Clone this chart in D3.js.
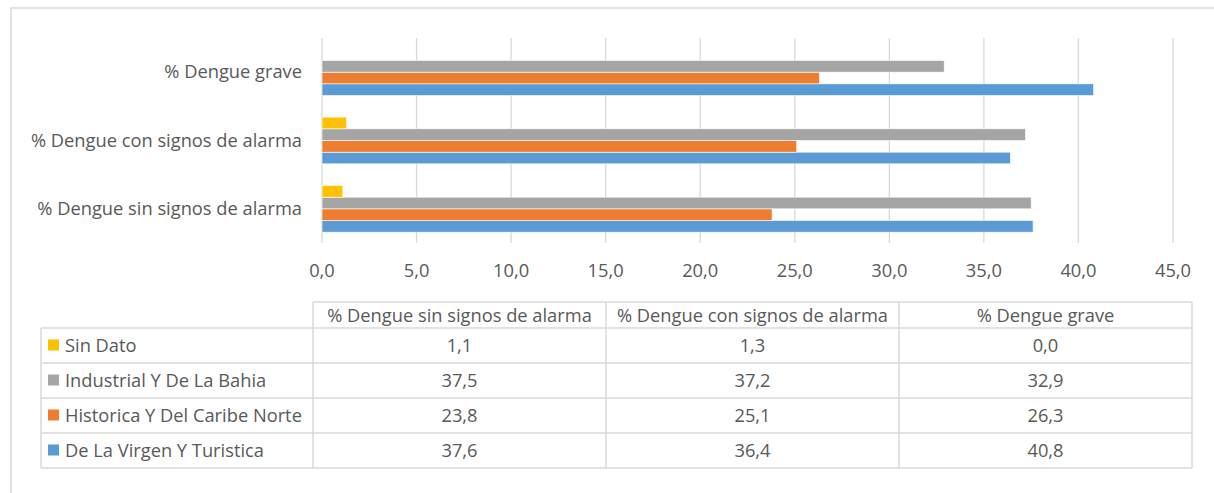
<!DOCTYPE html>
<html>
<head>
<meta charset="utf-8">
<script src="https://cdn.jsdelivr.net/npm/d3@7"></script>
<style>
  body { margin: 0; background: #fff; }
  text { font-family: "Open Sans", "Noto Sans", sans-serif; fill: #595959; }
</style>
</head>
<body>
<div id="chart"></div>
<script>
// clustered horizontal bars + data table underneath (Excel style)

const categories = ["% Dengue sin signos de alarma", "% Dengue con signos de alarma", "% Dengue grave"]
const seriesNames = ["De La Virgen Y Turistica", "Historica Y Del Caribe Norte", "Industrial Y De La Bahia", "Sin Dato"]
const seriesColors = ["#5B9BD5", "#ED7D31", "#A5A5A5", "#FFC000"]
const virgen     = [37.6, 36.4, 40.8]
const historica  = [23.8, 25.1, 26.3]
const industrial = [37.5, 37.2, 32.9]
const sinDato    = [1.1, 1.3, 0.0]
const xTicks = [0, 5, 10, 15, 20, 25, 30, 35, 40, 45]

const seriesValues = [virgen, historica, industrial, sinDato]

const W = 1214, H = 493
const fmt = d => d3.format(".1f")(d).replace(".", ",")
const fontSize = "18.3px"

const svg = d3.select("#chart").append("svg")
  .attr("width", W).attr("height", H)

// outer chart border (right and bottom run off the picture)
svg.append("rect")
  .attr("x", 11).attr("y", 8).attr("width", 1230).attr("height", 520)
  .attr("fill", "none").attr("stroke", "#d9d9d9").attr("stroke-width", 1.5)

// scales
const x = d3.scaleLinear().domain([0, 45]).range([322, 1173])
const y = d3.scaleBand()
  .domain(categories.slice().reverse())
  .range([38, 243])
  .paddingInner(0.317).paddingOuter(0.1585)
// first series sits at the bottom of each group
const ySub = d3.scaleBand()
  .domain(seriesNames.slice().reverse())
  .range([0, y.bandwidth()])

// vertical gridlines
svg.append("g").selectAll("line")
  .data(xTicks)
  .join("line")
  .attr("x1", d => x(d)).attr("x2", d => x(d))
  .attr("y1", 38).attr("y2", 243)
  .attr("stroke", "#d9d9d9").attr("stroke-width", 1.3)

// x tick labels
svg.append("g").selectAll("text")
  .data(xTicks)
  .join("text")
  .attr("x", d => x(d)).attr("y", 277)
  .attr("text-anchor", "middle")
  .style("font-size", fontSize)
  .text(d => fmt(d))

// category labels
svg.append("g").selectAll("text")
  .data(categories)
  .join("text")
  .attr("x", 302).attr("y", d => y(d) + y.bandwidth() / 2 + 6)
  .attr("text-anchor", "end")
  .style("font-size", fontSize)
  .text(d => d)

// bars
const bars = []
seriesNames.forEach((s, si) => {
  categories.forEach((c, ci) => {
    bars.push({ series: s, cat: c, value: seriesValues[si][ci], color: seriesColors[si] })
  })
})

svg.append("g").selectAll("rect")
  .data(bars.filter(d => d.value > 0))
  .join("rect")
  .attr("x", x(0))
  .attr("y", d => y(d.cat) + ySub(d.series))
  .attr("width", d => x(d.value) - x(0))
  .attr("height", ySub.bandwidth())
  .attr("fill", d => d.color)
  .attr("stroke", "#fff").attr("stroke-width", 0.6)

// data table
const colX = [41, 313, 606, 899, 1192]
const headerTop = 302, headerBottom = 328, rowH = 35
const rowOrder = seriesNames.slice().reverse()
const tableBottom = headerBottom + rowH * rowOrder.length

const table = svg.append("g")
const gridStroke = "#d9d9d9"

// header row lines (no cell above the legend column)
table.append("line")
  .attr("x1", colX[1]).attr("x2", colX[4])
  .attr("y1", headerTop).attr("y2", headerTop)
  .attr("stroke", gridStroke).attr("stroke-width", 1.5)

// horizontal lines of the body
table.selectAll("line.h")
  .data(d3.range(rowOrder.length + 1))
  .join("line").attr("class", "h")
  .attr("x1", colX[0]).attr("x2", colX[4])
  .attr("y1", i => headerBottom + i * rowH).attr("y2", i => headerBottom + i * rowH)
  .attr("stroke", gridStroke).attr("stroke-width", 1.5)

// vertical lines
table.selectAll("line.v")
  .data(colX)
  .join("line").attr("class", "v")
  .attr("x1", d => d).attr("x2", d => d)
  .attr("y1", (d, i) => i === 0 ? headerBottom : headerTop)
  .attr("y2", tableBottom)
  .attr("stroke", gridStroke).attr("stroke-width", 1.5)

// header text
table.selectAll("text.head")
  .data(categories)
  .join("text").attr("class", "head")
  .attr("x", (d, i) => (colX[i + 1] + colX[i + 2]) / 2)
  .attr("y", headerTop + 20)
  .attr("text-anchor", "middle")
  .style("font-size", fontSize)
  .text(d => d)

// legend keys + series names
rowOrder.forEach((s, r) => {
  const si = seriesNames.indexOf(s)
  const cy = headerBottom + r * rowH + rowH / 2
  table.append("rect")
    .attr("x", 48).attr("y", cy - 6)
    .attr("width", 11).attr("height", 11)
    .attr("fill", seriesColors[si])
  table.append("text")
    .attr("x", 65).attr("y", cy + 6.5)
    .style("font-size", fontSize)
    .text(s)
  categories.forEach((c, ci) => {
    table.append("text")
      .attr("x", (colX[ci + 1] + colX[ci + 2]) / 2)
      .attr("y", cy + 6.5)
      .attr("text-anchor", "middle")
      .style("font-size", fontSize)
      .text(fmt(seriesValues[si][ci]))
  })
})
</script>
</body>
</html>
